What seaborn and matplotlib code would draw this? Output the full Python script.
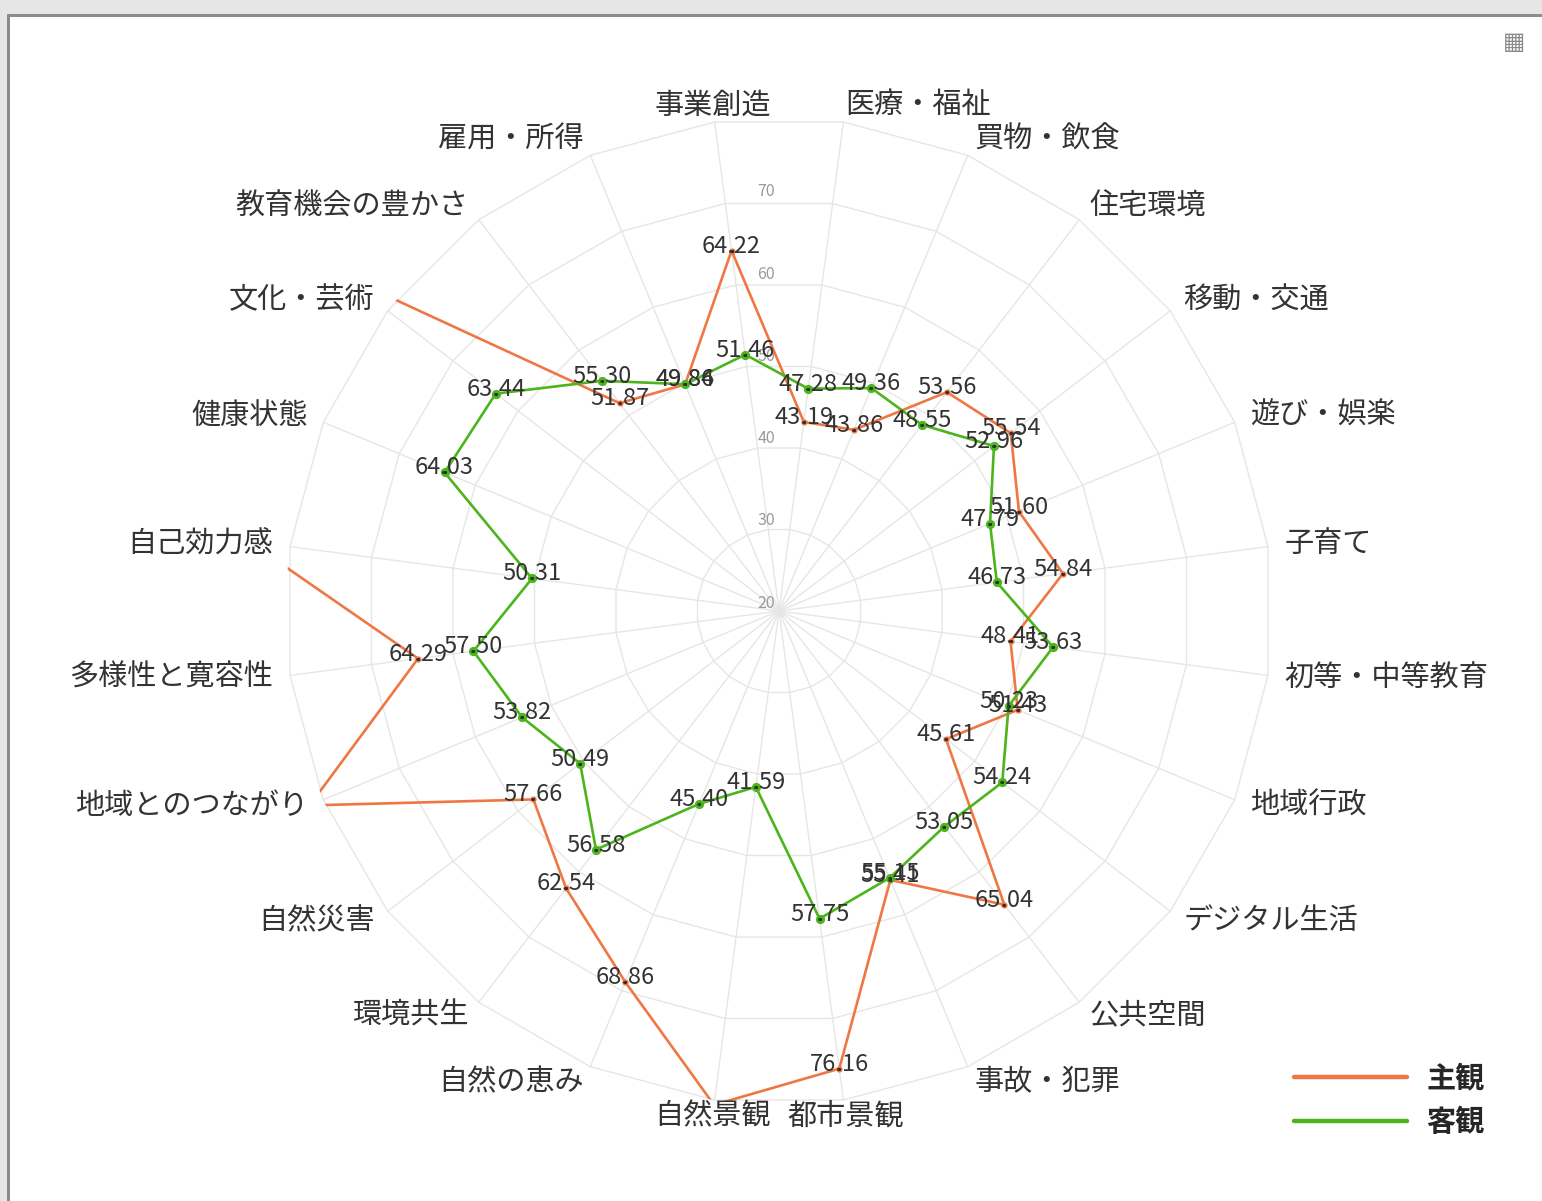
import numpy as np
import pandas as pd
import matplotlib
matplotlib.use("Agg")
import matplotlib.pyplot as plt
from matplotlib.lines import Line2D
from matplotlib.patches import Rectangle
from matplotlib.font_manager import FontProperties
import seaborn as sns

# ---- data -------------------------------------------------------------
categories = [
    "事業創造", "医療・福祉", "買物・飲食", "住宅環境", "移動・交通", "遊び・娯楽",
    "子育て", "初等・中等教育", "地域行政", "デジタル生活", "公共空間", "事故・犯罪",
    "都市景観", "自然景観", "自然の恵み", "環境共生", "自然災害", "地域とのつながり",
    "多様性と寛容性", "自己効力感", "健康状態", "文化・芸術", "教育機会の豊かさ", "雇用・所得",
]
subjective = [
    64.22, 43.19, 43.86, 53.56, 55.54, 51.60,
    54.84, 48.41, 51.43, 45.61, 65.04, 55.41,
    76.16, 80.60, 68.86, 62.54, 57.66, 81.80,
    64.29, 85.10, 86.20, 87.30, 51.87, 49.84,
]
objective = [
    51.46, 47.28, 49.36, 48.55, 52.96, 47.79,
    46.73, 53.63, 50.23, 54.24, 53.05, 55.15,
    57.75, 41.59, 45.40, 56.58, 50.49, 53.82,
    57.50, 50.31, 64.03, 63.44, 55.30, 49.86,
]
series_names = ["主観", "客観"]
radial_ticks = [20, 30, 40, 50, 60, 70, 80]
radial_labels = ["20", "30", "40", "50", "60", "70", ""]

# ---- style ------------------------------------------------------------
sns.set_theme(style="white")
FONT = ["Noto Sans CJK JP", "DejaVu Sans"]
plt.rcParams["font.family"] = FONT

COLORS = {"主観": "#EE7743", "客観": "#4BB51B"}
GRID = "#E6E6E6"
TEXT = "#333333"
R_MIN, R_MAX = radial_ticks[0], radial_ticks[-1]
CENTERED = {"事業創造", "都市景観", "自然景観"}

n = len(categories)
step = 2 * np.pi / n
angles = -step / 2 + step * np.arange(n)

rows = []
for name, vals in zip(series_names, [subjective, objective]):
    for k, (cat, v) in enumerate(zip(categories, vals)):
        rows.append({"series": name, "category": cat, "theta": angles[k], "value": v, "order": k})
    rows.append({"series": name, "category": categories[0], "theta": angles[0] + 2 * np.pi,
                 "value": vals[0], "order": n})
df = pd.DataFrame(rows)

# ---- figure -----------------------------------------------------------
W, H = 1542, 1201
fig = plt.figure(figsize=(W / 100, H / 100), dpi=100)
fig.patch.set_facecolor("white")

# panel frame (top and left edges)
fig.add_artist(Rectangle((0, 1 - 14 / H), 1, 14 / H, transform=fig.transFigure,
                         facecolor="#E6E6E6", edgecolor="none"))
fig.add_artist(Rectangle((0, 0), 7 / W, 1, transform=fig.transFigure,
                         facecolor="#E6E6E6", edgecolor="none"))
fig.add_artist(Rectangle((7 / W, 1 - 17 / H), 1, 3 / H, transform=fig.transFigure,
                         facecolor="#8C8C8C", edgecolor="none"))
fig.add_artist(Rectangle((7 / W, 0), 2.5 / W, 1 - 14 / H, transform=fig.transFigure,
                         facecolor="#8C8C8C", edgecolor="none"))
fig.text(1514 / W, 1 - 42 / H, "▦", family="DejaVu Sans", fontsize=17,
         color="#8A8A8A", ha="center", va="center")

cx, cy, rad = 779, 611, 493.2
ax = fig.add_axes([(cx - rad) / W, (H - cy - rad) / H, 2 * rad / W, 2 * rad / H],
                  projection="polar")
ax.set_theta_zero_location("N")
ax.set_theta_direction(-1)
ax.set_ylim(R_MIN, R_MAX)
ax.set_xticks([])
ax.set_yticks([])
ax.grid(False)
ax.spines["polar"].set_visible(False)
ax.set_facecolor("white")

# polygon web
closed = np.append(angles, angles[0])
for v in radial_ticks[1:]:
    ax.plot(closed, [v] * len(closed), color=GRID, lw=1.0, zorder=1, clip_on=False)
for a in angles:
    ax.plot([a, a], [R_MIN, R_MAX], color=GRID, lw=1.0, zorder=1, clip_on=False)

# radial scale labels
for v, lab in zip(radial_ticks, radial_labels):
    if lab:
        ax.annotate(lab, (0, v), xytext=(-13, 8), textcoords="offset pixels",
                    ha="center", va="center", fontsize=11.5, color="#9A9A9A", zorder=2)

# series lines
sns.lineplot(data=df, x="theta", y="value", hue="series", palette=COLORS,
             hue_order=series_names, sort=False, estimator=None, units="series",
             lw=1.9, legend=False, ax=ax, zorder=3)

# point markers
for name, size in zip(series_names, [20, 44]):
    sub = df[(df.series == name) & (df.order < n)]
    sns.scatterplot(data=sub, x="theta", y="value", color=COLORS[name], s=size,
                    linewidth=0, legend=False, ax=ax, zorder=4)
    sns.scatterplot(data=sub, x="theta", y="value", color="#222222", s=5,
                    linewidth=0, legend=False, ax=ax, zorder=5)

ax.set_xlabel("")
ax.set_ylabel("")
ax.set_ylim(R_MIN, R_MAX)

# value labels
for name, vals in zip(series_names, [subjective, objective]):
    for a, v in zip(angles, vals):
        if v <= R_MAX:
            ax.annotate(f"{v:.2f}", (a, v), xytext=(0, -2), textcoords="offset pixels",
                        ha="center", va="baseline", fontsize=17, color=TEXT, zorder=6)

# category labels
r_lab = R_MIN + (R_MAX - R_MIN) * 510 / rad
for a, cat in zip(angles, categories):
    if cat in CENTERED:
        ha = "center"
    elif np.sin(a) > 0:
        ha = "left"
    else:
        ha = "right"
    ax.text(a, r_lab, cat, ha=ha, va="center", fontsize=21, color=TEXT, zorder=6)

# legend
handles = [Line2D([], [], color=COLORS[s], lw=3.2) for s in series_names]
fig.legend(handles, series_names, loc="upper left",
           bbox_to_anchor=(1279 / W, 1 - 1049 / H), frameon=False, borderpad=0,
           handlelength=3.9, handletextpad=0.65, labelspacing=0.45,
           prop=FontProperties(family=FONT, weight="bold", size=21))

fig.savefig("out.png", dpi=100, facecolor="white")
